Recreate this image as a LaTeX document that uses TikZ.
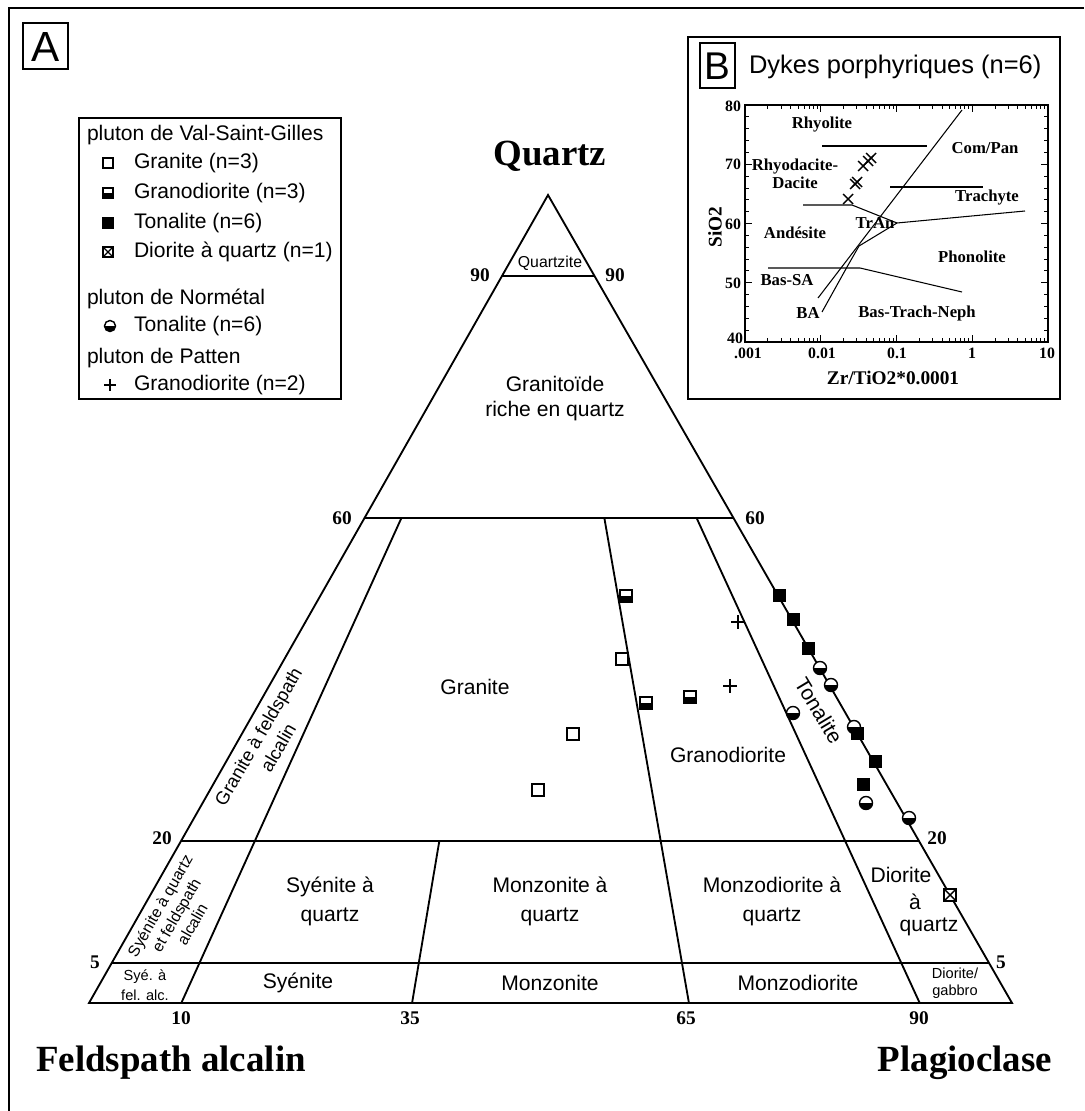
\documentclass[tikz,border=0pt]{standalone}
\usepackage{fontspec}
\setmainfont{Liberation Sans}
\newfontfamily\tnr{Liberation Serif}
\usetikzlibrary{calc}
\begin{document}
\begin{tikzpicture}[x=0.02cm,y=-0.02cm,
  every node/.style={inner sep=0pt, outer sep=0pt},
  ln/.style={line width=1.05pt},
  ilin/.style={line width=0.6pt},
  tk/.style={line width=0.5pt},
  lab/.style={font=\fontsize{12}{14.5}\selectfont, align=center},
  lab9/.style={font=\fontsize{9}{11}\selectfont, align=center},
  labxs/.style={font=\fontsize{8.3}{10.5}\selectfont, align=center},
  num/.style={font=\tnr\bfseries\fontsize{11}{13}\selectfont},
  apexlab/.style={font=\tnr\bfseries\fontsize{21}{24}\selectfont},
  ilab/.style={font=\tnr\bfseries\fontsize{9.5}{11}\selectfont},
  inum/.style={font=\tnr\bfseries\fontsize{9}{11}\selectfont},
  leg/.style={font=\fontsize{12}{14}\selectfont, anchor=west},
  mk/.style={line width=0.8pt},
  pics/osq/.style={code={\draw[mk,fill=white] (-6,-6) rectangle (6,6);}},
  pics/gsq/.style={code={\fill[white] (-6,-6) rectangle (6,6); \fill (-6,0) rectangle (6,6); \draw[mk] (-6,-6) rectangle (6,6);}},
  pics/fsq/.style={code={\fill (-6.5,-6.5) rectangle (6.5,6.5);}},
  pics/xsq/.style={code={\draw[mk,fill=white] (-6,-6) rectangle (6,6); \draw[mk] (-6,-6) -- (6,6) (-6,6) -- (6,-6);}},
  pics/hcirc/.style={code={\fill[white] (0,0) circle[radius=6.5]; \begin{scope}\clip (-8,0) rectangle (8,8); \fill (0,0) circle[radius=6.5];\end{scope} \draw[mk] (0,0) circle[radius=6.5];}},
  pics/pplus/.style={code={\draw[mk] (-7,0) -- (7,0) (0,-7) -- (0,7);}},
  pics/ix/.style={code={\draw[line width=0.8pt] (-5,-5) -- (5,5) (-5,5) -- (5,-5);}},
]
\useasboundingbox (0,0) rectangle (1084,1111);

% ---------- outer frame and panel letter A
\draw[line width=1.6pt] (1084,8) -- (9,8) -- (9,1111);
\draw[line width=0.9pt] (23,23) rectangle (68,69);
\node[font=\fontsize{24}{24}\selectfont] (lblA) at (45.5,46.5) {A};

% ---------- legend
\draw[line width=0.9pt] (79,118) rectangle (341,399);
\node[leg] (lg0) at (87,135) {pluton de Val-Saint-Gilles};
\pic[scale=0.85] at (108,163) {osq};  \node[leg] (lg1) at (134,163) {Granite (n=3)};
\pic[scale=0.85] at (108,193) {gsq};  \node[leg] (lg2) at (134,193) {Granodiorite (n=3)};
\pic[scale=0.85] at (108,223) {fsq};  \node[leg] (lg3) at (134,223) {Tonalite (n=6)};
\pic[scale=0.85] at (108,252) {xsq};  \node[leg] (lg4) at (134,252) {Diorite à quartz (n=1)};
\node[leg] (lg5) at (87,299) {pluton de Normétal};
\pic[scale=0.85] at (110,326) {hcirc}; \node[leg] (lg6) at (134,326) {Tonalite (n=6)};
\node[leg] (lg7) at (87,358) {pluton de Patten};
\pic[scale=0.85] at (110,385) {pplus}; \node[leg] (lg8) at (134,385) {Granodiorite (n=2)};

% ---------- QAPF triangle
\coordinate (L) at (89,1003);
\coordinate (R) at (1012,1003);
\coordinate (Q) at (548,195);
\coordinate (B10) at ($(L)!0.1!(R)$);
\coordinate (B35) at ($(L)!0.35!(R)$);
\coordinate (B65) at ($(L)!0.65!(R)$);
\coordinate (B90) at ($(L)!0.9!(R)$);
\draw[ln, line join=miter] (L) -- (R) -- (Q) -- cycle;
\foreach \q in {0.9,0.6,0.2,0.05}
  \draw[ln] ($(L)!\q!(Q)$) -- ($(R)!\q!(Q)$);
\draw[ln] (B10) -- ($(B10)!0.6!(Q)$);
\draw[ln] (B35) -- ($(B35)!0.2!(Q)$);
\draw[ln] (B65) -- ($(B65)!0.6!(Q)$);
\draw[ln] (B90) -- ($(B90)!0.6!(Q)$);

% apex labels
\node[apexlab, anchor=base] (tQ) at (550,166) {Quartz};
\node[apexlab] (tA) at (171,1063) {Feldspath alcalin};
\node[apexlab] (tP) at (965,1063) {Plagioclase};

% scale numbers
\node[num] (n90l) at (480,275) {90};
\node[num] (n90r) at (615,275) {90};
\node[num] (n60l) at (342,518) {60};
\node[num] (n60r) at (755,518) {60};
\node[num] (n20l) at (162,838) {20};
\node[num] (n20r) at (937,838) {20};
\node[num] (n5l) at (95,962) {5};
\node[num] (n5r) at (1001,962) {5};
\node[num] (b10) at (181,1018) {10};
\node[num] (b35) at (410,1018) {35};
\node[num] (b65) at (686,1018) {65};
\node[num] (b90) at (919,1018) {90};

% field names
\node[lab9] (fQz) at (550,263) {Quartzite};
\node[lab, font=\fontsize{12}{14.2}\selectfont] (fGr) at (555,399) {Granitoïde\\riche en quartz};
\node[lab] (fGn) at (475,687) {Granite};
\node[lab] (fGd) at (728,755) {Granodiorite};
\node[lab, rotate=-59] (fTo) at (819,711) {Tonalite};
\node[align=center, font=\fontsize{10.5}{13}\selectfont, rotate=60] (fGfa) at (268,742) {Granite à feldspath\\alcalin};
\node[align=center, font=\fontsize{9}{10.6}\selectfont, rotate=60] (fSqa) at (176,915) {Syénite à quartz\\et feldspath\\alcalin};
\node[lab, font=\fontsize{12}{16.5}\selectfont] (fSq) at (330,901) {Syénite à\\quartz};
\node[lab, font=\fontsize{12}{16.5}\selectfont] (fMq) at (550,901) {Monzonite à\\quartz};
\node[lab, font=\fontsize{12}{16.5}\selectfont] (fMdq) at (772,901) {Monzodiorite à\\quartz};
\node[lab] (fDq1) at (901,875) {Diorite};
\node[lab] (fDq2) at (915,902) {à};
\node[lab] (fDq3) at (929,927) {quartz};
\node[labxs, font=\fontsize{8.3}{11.5}\selectfont] (fSfa) at (145,985) {Syé. à\\fel. alc.};
\node[lab] (fSy) at (298,983) {Syénite};
\node[lab] (fMz) at (550,983) {Monzonite};
\node[lab] (fMd) at (798,983) {Monzodiorite};
\node[labxs, font=\fontsize{8.3}{9.8}\selectfont] (fDg) at (955,983) {Diorite/\\gabbro};

% ---------- data points
\pic at (622,659) {osq};
\pic at (573,734) {osq};
\pic at (538,790) {osq};
\pic at (626,596) {gsq};
\pic at (646,703) {gsq};
\pic at (690,697) {gsq};
\pic at (738,622) {pplus};
\pic at (730,686) {pplus};
\pic at (820,668) {hcirc};
\pic at (831,685) {hcirc};
\pic at (793,713) {hcirc};
\pic at (854,727) {hcirc};
\pic at (866,803) {hcirc};
\pic at (909,818) {hcirc};
\pic at (779,595) {fsq};
\pic at (793,619) {fsq};
\pic at (808,648) {fsq};
\pic at (857,733) {fsq};
\pic at (875,761) {fsq};
\pic at (863,784) {fsq};
\pic at (950,895) {xsq};

% ---------- inset B
\draw[line width=1.6pt] (688,37) rectangle (1060,399);
\draw[line width=0.9pt] (700,43) rectangle (735,88);
\node[font=\fontsize{22}{22}\selectfont] (lblB) at (717.5,66) {B};
\node[font=\fontsize{14.5}{16}\selectfont, anchor=west] (dyk) at (749,67) {Dykes porphyriques (n=6)};
\draw[line width=0.8pt] (745,105) rectangle (1048,342);
% log ticks
\foreach \d in {0,1,2,3} {
  \foreach \k in {1,...,9} {
    \pgfmathsetmacro\xx{745+75.75*(\d+log10(\k))}
    \pgfmathsetmacro\tl{ifthenelse(\k==1,7,4)}
    \draw[tk] (\xx,342) -- ++(0,-\tl);
    \draw[tk] (\xx,105) -- ++(0,\tl);
  }
}
\foreach \s in {42,44,...,78} {
  \pgfmathsetmacro\yy{342-(\s-40)*5.925}
  \pgfmathsetmacro\tl{ifthenelse(mod(\s,10)==0,7,4)}
  \draw[tk] (745,\yy) -- ++(\tl,0);
  \draw[tk] (1048,\yy) -- ++(-\tl,0);
}
% tick labels
\node[inum, anchor=east] (y80) at (741,106) {80};
\node[inum, anchor=east] (y70) at (741,164) {70};
\node[inum, anchor=east] (y60) at (741,224) {60};
\node[inum, anchor=east] (y50) at (741,283) {50};
\node[inum, anchor=east] (y40) at (743,338) {40};
\node[inum] (x1) at (748,353) {.001};
\node[inum] (x2) at (822,353) {0.01};
\node[inum] (x3) at (897,353) {0.1};
\node[inum] (x4) at (972,353) {1};
\node[inum] (x5) at (1047,353) {10};
\node[font=\tnr\bfseries\fontsize{11}{13}\selectfont] (xlab) at (893,378) {Zr/TiO2*0.0001};
\node[font=\tnr\bfseries\fontsize{11}{13}\selectfont, rotate=90] (ylab) at (715,227) {SiO2};
% field boundaries
\draw[ilin] (818,298) -- (962,110);
\draw[ilin] (822,312) -- (847,267) -- (859,246) -- (897,223) -- (1025,211);
\draw[ilin] (803,205) -- (852,205) -- (897,223);
\draw[ilin] (822,146) -- (927,146);
\draw[ilin] (890,187) -- (983,187);
\draw[ilin] (768,268) -- (860,268) -- (962,292);
% field labels
\node[ilab] (iRh) at (822,125) {Rhyolite};
\node[ilab] (iCP) at (985,148) {Com/Pan};
\node[ilab, align=center, font=\tnr\bfseries\fontsize{9.5}{10.5}\selectfont] (iRD) at (795,174) {Rhyodacite-\\Dacite};
\node[ilab] (iTr) at (987,198) {Trachyte};
\node[ilab] (iTA) at (875,223) {TrAn};
\node[ilab] (iAn) at (795,233) {Andésite};
\node[ilab] (iPh) at (972,257) {Phonolite};
\node[ilab] (iBS) at (787,280) {Bas-SA};
\node[ilab] (iBA) at (808,313) {BA};
\node[ilab] (iBT) at (917,313) {Bas-Trach-Neph};
% data
\pic at (871,158) {ix};
\pic at (868,161) {ix};
\pic at (863,166) {ix};
\pic at (857,182) {ix};
\pic at (855,184) {ix};
\pic at (848,199) {ix};
\end{tikzpicture}
\end{document}
